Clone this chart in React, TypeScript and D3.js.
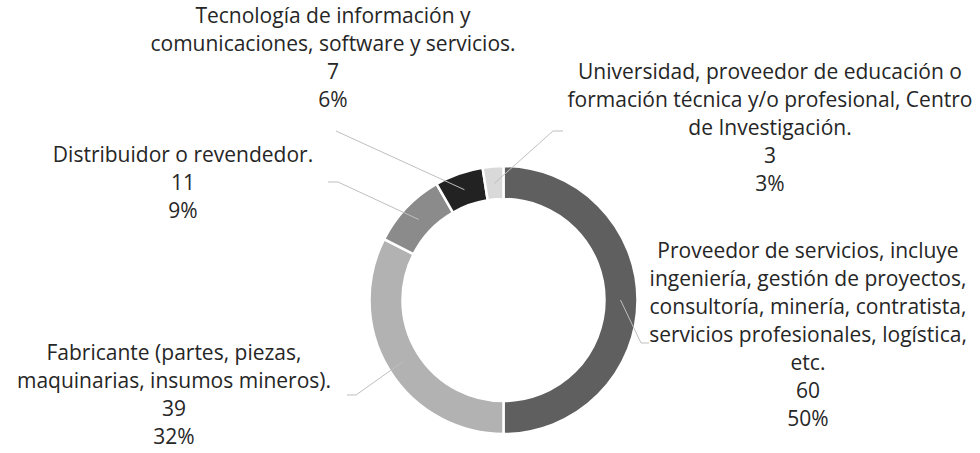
import * as d3 from "d3";

// slices, clockwise from 12 o'clock
const categories = [
  "Proveedor de servicios",
  "Fabricante",
  "Distribuidor o revendedor",
  "Tecnología de información",
  "Universidad",
];
const counts = [60, 39, 11, 7, 3];
const percents = ["50%", "32%", "9%", "6%", "3%"];
const labelText = [
  [
    "Proveedor de servicios, incluye",
    "ingeniería, gestión de proyectos,",
    "consultoría, minería, contratista,",
    "servicios profesionales, logística,",
    "etc.",
  ],
  ["Fabricante (partes, piezas,", "maquinarias, insumos mineros)."],
  ["Distribuidor o revendedor."],
  ["Tecnología de información y", "comunicaciones, software y servicios."],
  [
    "Universidad, proveedor de educación o",
    "formación técnica y/o profesional, Centro",
    "de Investigación.",
  ],
];
const colors = ["#5f5f5f", "#b2b2b2", "#8b8b8b", "#222222", "#d9d9d9"];

// label placement: text centre x, first baseline, leader elbow, leader end
const labelPos = [
  { x: 808, y: 258, elbow: [641, 343], end: [649, 343] },
  { x: 174, y: 360, elbow: [356, 395], end: [347, 395] },
  { x: 183, y: 162, elbow: [338, 182], end: [328, 182] },
  { x: 333, y: 23, elbow: [336, 131], end: [336, 131] },
  { x: 770, y: 79, elbow: [553, 131], end: [563, 131] },
];

const width = 980;
const height = 453;
const cx = 503.5;
const cy = 300;
const outerR = 134;
const innerR = 101;
const lineH = 28;

export default function App() {
  const pie = d3
    .pie<number>()
    .sort(null)
    .value((d) => d);
  const arcs = pie(counts);
  const arc = d3
    .arc<d3.PieArcDatum<number>>()
    .innerRadius(innerR)
    .outerRadius(outerR);
  const leaderArc = d3
    .arc<d3.PieArcDatum<number>>()
    .innerRadius(117)
    .outerRadius(117);

  return (
    <div style={{ position: "fixed", left: 0, top: 0 }}>
      <svg width={width} height={height} style={{ display: "block", background: "#fff" }}>
        <g transform={`translate(${cx},${cy})`}>
          {arcs.map((a, i) => (
            <path
              key={categories[i]}
              d={arc(a) ?? ""}
              fill={colors[i]}
              stroke="#fff"
              strokeWidth={2.5}
            />
          ))}
        </g>
        <g fill="none" stroke="#bfbfbf" strokeWidth={1}>
          {arcs.map((a, i) => {
            const [px, py] = leaderArc.centroid(a);
            const p = labelPos[i];
            const pts: [number, number][] = [
              [cx + px, cy + py],
              p.elbow as [number, number],
              p.end as [number, number],
            ];
            return <path key={i} d={d3.line()(pts) ?? ""} />;
          })}
        </g>
        <g
          fontFamily="'Open Sans', sans-serif"
          fontSize={21}
          fill="#262626"
          textAnchor="middle"
        >
          {labelText.map((lines, i) => {
            const all = [...lines, String(counts[i]), percents[i]];
            return (
              <text key={i} x={labelPos[i].x} y={labelPos[i].y}>
                {all.map((t, j) => (
                  <tspan key={j} x={labelPos[i].x} y={labelPos[i].y + j * lineH}>
                    {t}
                  </tspan>
                ))}
              </text>
            );
          })}
        </g>
      </svg>
    </div>
  );
}
